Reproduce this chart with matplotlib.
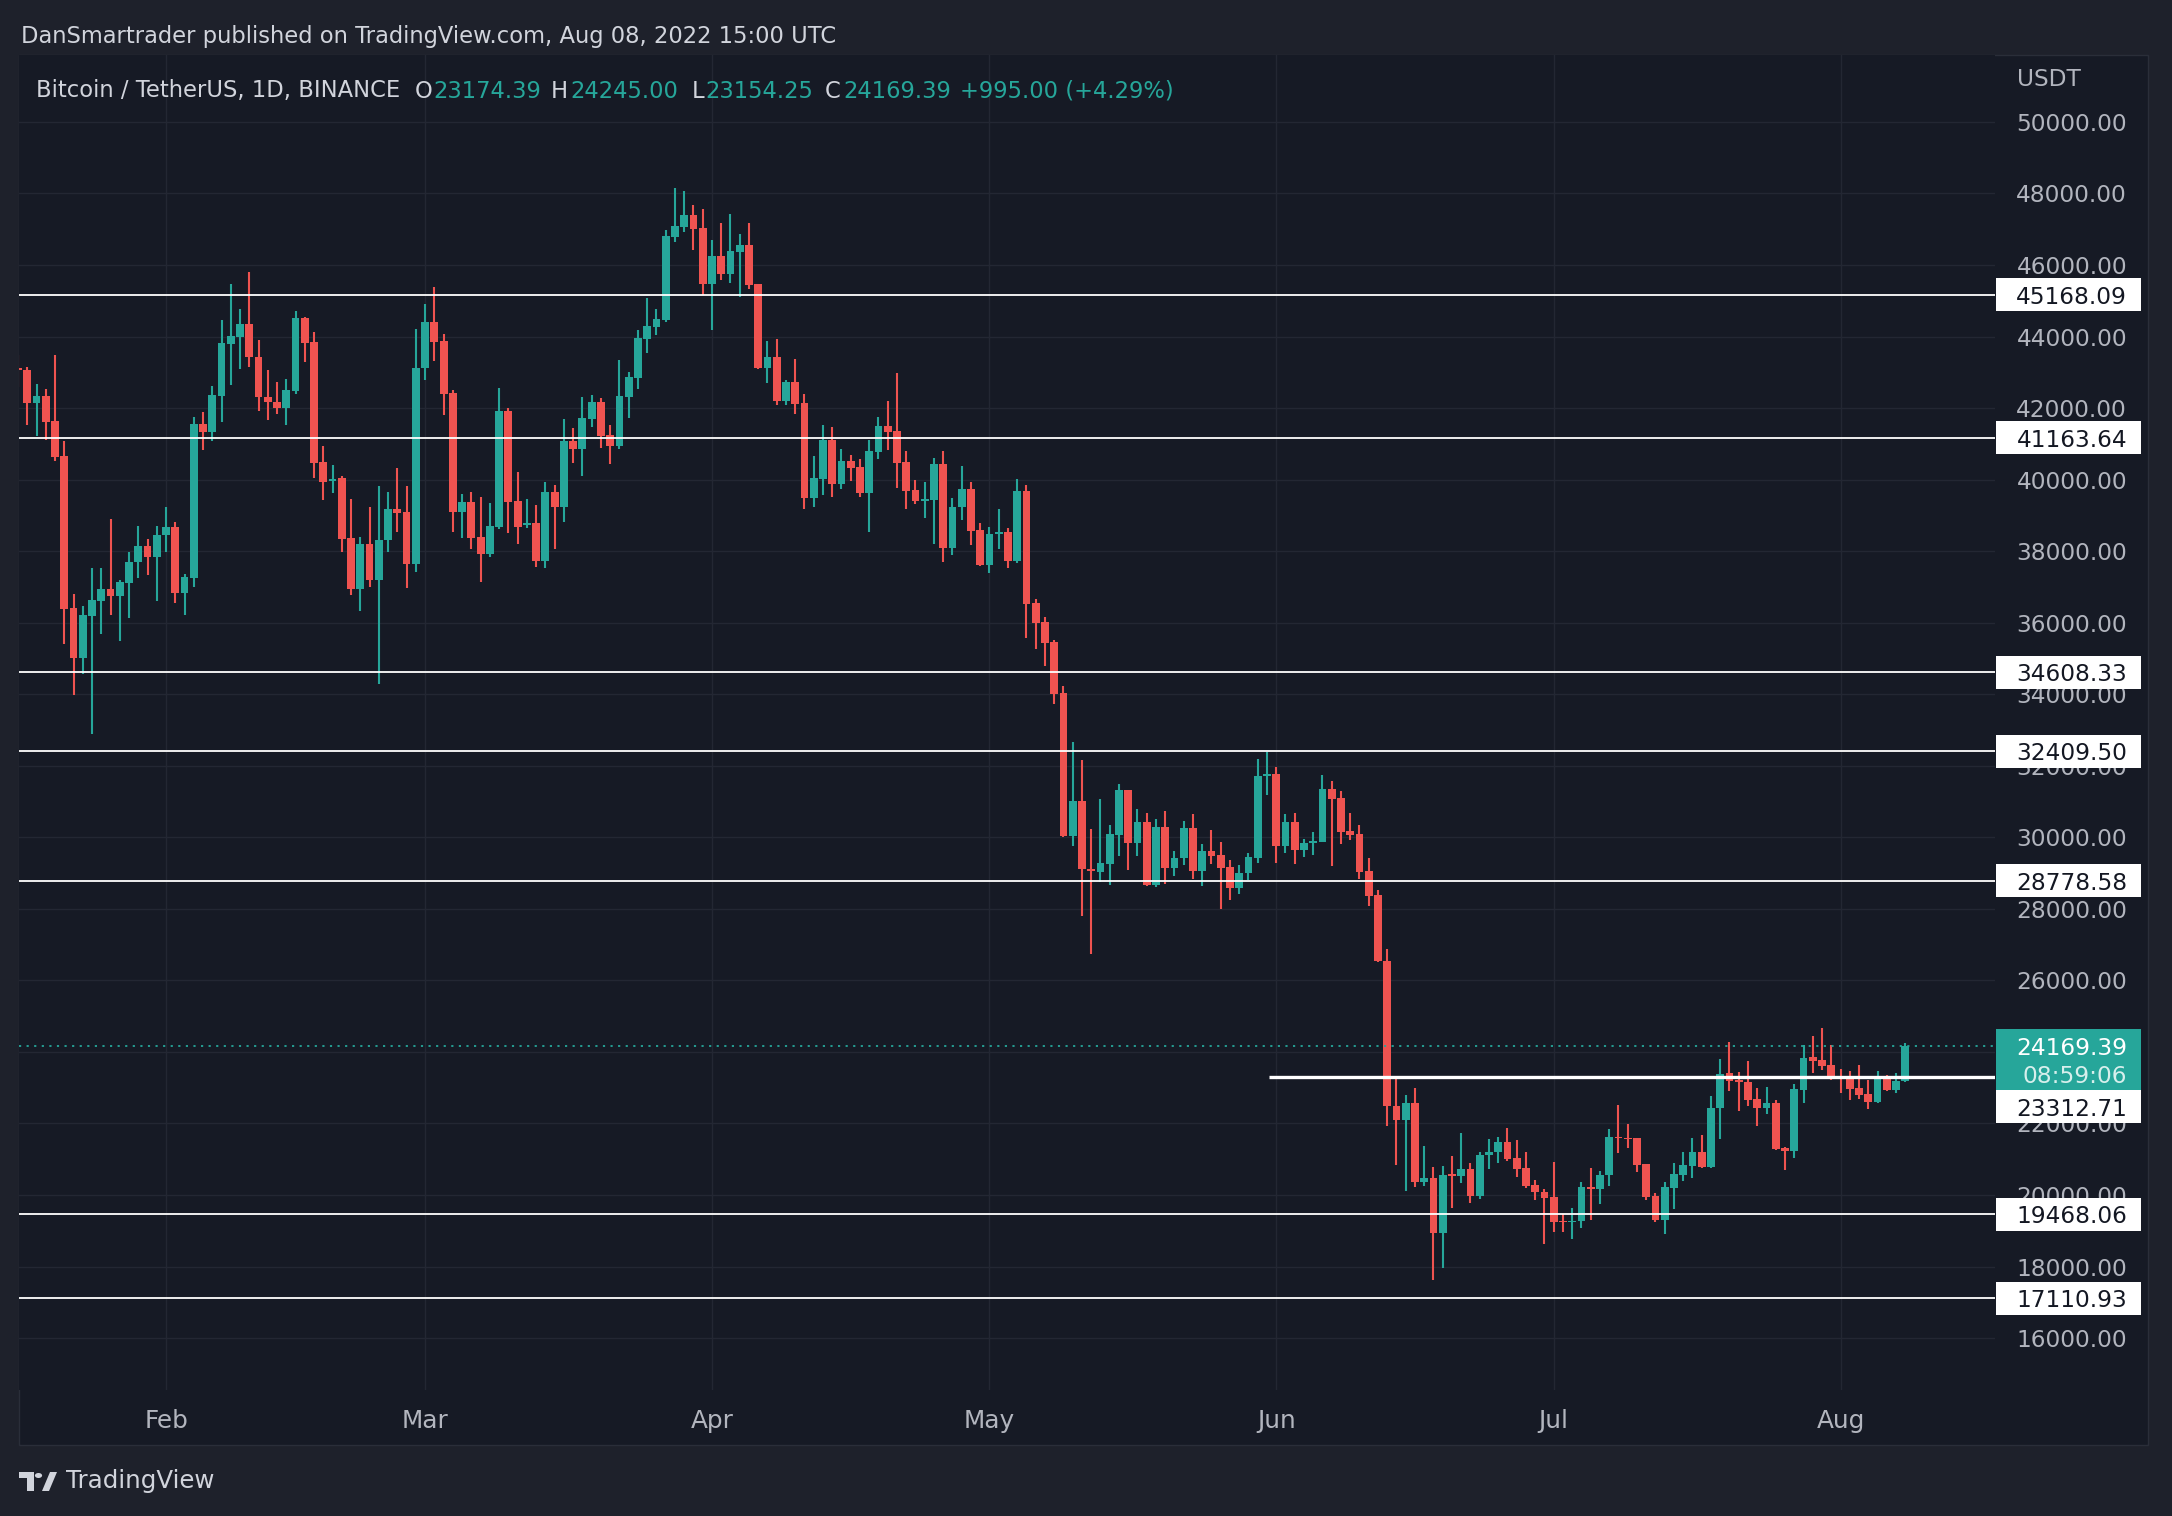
import numpy as np
import pandas as pd
import matplotlib
matplotlib.use("Agg")
import matplotlib.pyplot as plt
import matplotlib.dates as mdates
from matplotlib.patches import Rectangle, Circle, Polygon

# ---------------- data (BTC/USDT daily) ----------------
start_date = "2022-01-16"
opens = [43080, 43071, 42141, 42328, 41638, 40660, 36410, 35021, 36196, 36615,
         36941, 36755, 37109, 37696, 38143, 37836, 38451, 38674, 36829, 37249,
         41554, 41340, 42346, 43800, 43996, 44350, 43436, 42318, 42178, 42011,
         42486, 44517, 43847, 40492, 39960, 40044, 38367, 36950, 38199, 37202,
         38311, 39178, 39094, 37649, 43120, 44406, 43874, 42421, 39103, 39373,
         38395, 37919, 38674, 41917, 39401, 38730, 38786, 37733, 39653, 39243,
         41079, 40864, 41694, 42170, 41247, 40939, 42309, 42840, 43931, 44266,
         44462, 46782, 47062, 47398, 47034, 45469, 46251, 45748, 46363, 46559,
         45469, 43120, 43428, 42198, 42728, 42142, 39495, 40026, 41107, 39887,
         40520, 40352, 39626, 40779, 41495, 41356, 40490, 39710, 39410, 39432,
         40437, 38096, 39229, 39742, 38587, 37615, 38480, 38523, 37711, 39678,
         36556, 36022, 35466, 34033, 30046, 31019, 29084, 29020, 29266, 30078,
         31318, 29854, 30428, 28666, 30288, 29141, 29421, 30260, 29067, 29617,
         29505, 29169, 28583, 29002, 29421, 31714, 31770, 29757, 30428, 29645,
         29841, 29869, 31350, 31099, 30176, 30092, 29058, 28387, 26542, 22480,
         22100, 22569, 20364, 20464, 18937, 20554, 20533, 20723, 19975, 21112,
         21212, 21481, 21032, 20753, 20274, 20094, 19945, 19266, 19236, 19286,
         20224, 20164, 20554, 21621, 21591, 21591, 20862, 19965, 19296, 20204,
         20554, 20820, 21193, 20783, 22432, 23411, 23215, 23159, 22684, 22442,
         22572, 21305, 21230, 22935, 23858, 23774, 23634, 23299, 23271, 22992,
         22824, 22600, 23299, 22935, 23174.39]
highs = [43470, 43150, 42670, 42533, 43483, 41069, 36801, 36456, 37529, 37529,
         38898, 37193, 37975, 38702, 38339, 38702, 39234, 38814, 37361, 41750,
         41889, 42616, 44462, 45468, 44769, 45803, 43902, 43064, 42728, 42812,
         44713, 44540, 44126, 40939, 40408, 40100, 39457, 38395, 39234, 39820,
         39653, 40324, 39820, 44210, 44909, 45384, 44070, 42505, 39597, 39653,
         39513, 39345, 42560, 42001, 40212, 39457, 39289, 39933, 39849, 41694,
         41442, 42309, 42365, 42281, 41526, 43344, 43008, 44182, 45077, 44770,
         46978, 48152, 48068, 47677, 47565, 46699, 47174, 47426, 46866, 47174,
         45469, 43875, 43931, 42785, 43372, 42393, 40660, 41527, 41471, 40856,
         40688, 40576, 41100, 41752, 42201, 42976, 40800, 39988, 39934, 40608,
         40800, 39485, 40383, 39934, 38791, 38673, 39175, 38652, 40020, 39849,
         36663, 36161, 35519, 34236, 32665, 32163, 30228, 31072, 30346, 31479,
         31318, 30794, 30679, 30512, 30735, 29617, 30456, 30651, 29813, 30204,
         29869, 29365, 29225, 29561, 32189, 32385, 31965, 30651, 30679, 29953,
         30148, 31742, 31574, 31295, 30679, 30344, 29421, 28527, 26890, 23330,
         22789, 22989, 21362, 20783, 20803, 21082, 21731, 20893, 21212, 21561,
         21621, 21870, 21531, 21202, 20414, 20164, 20923, 19466, 19635, 20364,
         20753, 20663, 21841, 22510, 21980, 21591, 20862, 20045, 20364, 20893,
         21202, 21593, 21677, 22758, 23802, 24277, 23439, 23746, 22992, 23019,
         22656, 21342, 23103, 24194, 24445, 24669, 24194, 23523, 23467, 23634,
         23215, 23467, 23355, 23411, 24245.00]
lows = [42580, 41530, 41220, 41116, 40529, 35413, 33987, 34565, 32897, 35692,
        36223, 35497, 36140, 37249, 37333, 36615, 37975, 36559, 36223, 37007,
        40836, 41088, 41619, 42654, 43101, 43157, 41927, 41675, 41843, 41535,
        42402, 43297, 40054, 39439, 39634, 37985, 36783, 36335, 37006, 34294,
        37985, 38544, 36978, 37426, 42794, 43315, 41806, 38544, 38367, 38069,
        37146, 37845, 38628, 38516, 38209, 38656, 37565, 37537, 38069, 38823,
        40473, 40110, 41470, 40884, 40436, 40856, 41722, 42533, 43539, 44043,
        44406, 46643, 46922, 46419, 45161, 44182, 45580, 45496, 45105, 45329,
        43092, 42701, 42086, 42086, 41834, 39178, 39234, 39570, 39523, 39737,
        39961, 39514, 38534, 40586, 40832, 39763, 39175, 39304, 38930, 38203,
        37700, 37893, 38876, 38171, 37583, 37390, 38064, 37529, 37679, 35573,
        35263, 34793, 33735, 30000, 29747, 27791, 26732, 28752, 28656, 29491,
        29095, 29469, 28638, 28600, 28703, 28918, 29225, 28834, 28638, 29253,
        27995, 28247, 28415, 28806, 29281, 31182, 29281, 29561, 29253, 29449,
        29505, 29869, 29197, 29813, 29925, 28834, 28079, 26514, 21930, 20850,
        20114, 20234, 20244, 17629, 17969, 19645, 20345, 19785, 19895, 20733,
        20893, 20953, 20504, 20204, 19865, 18637, 18977, 18977, 18778, 19067,
        19306, 19755, 20254, 21182, 21322, 20653, 19865, 19256, 18917, 19615,
        20384, 20475, 20755, 20755, 21566, 22908, 22348, 22488, 21929, 22264,
        21258, 20699, 21034, 22572, 23411, 23495, 23215, 22852, 22656, 22684,
        22404, 22572, 22908, 22852, 23154.25]
closes = [43071, 42141, 42328, 41610, 40641, 36391, 35021, 36214, 36634, 36941,
          36755, 37137, 37696, 38143, 37836, 38451, 38674, 36829, 37277, 41554,
          41340, 42365, 43819, 44014, 44350, 43436, 42318, 42178, 42011, 42505,
          44517, 43828, 40473, 39942, 40020, 38348, 36950, 38199, 37202, 38311,
          39178, 39075, 37649, 43120, 44406, 43846, 42393, 39103, 39373, 38367,
          37919, 38702, 41917, 39383, 38684, 38800, 37733, 39653, 39243, 41079,
          40864, 41722, 42170, 41219, 40939, 42337, 42869, 43958, 44294, 44490,
          46810, 47090, 47398, 47006, 45469, 46251, 45748, 46391, 46559, 45441,
          43120, 43428, 42198, 42728, 42114, 39495, 40045, 41107, 39887, 40520,
          40324, 39626, 40800, 41495, 41335, 40469, 39688, 39410, 39430, 40437,
          38096, 39229, 39742, 38566, 37615, 38480, 38510, 37711, 39678, 36524,
          36000, 35434, 34012, 30046, 31019, 29106, 29058, 29287, 30100, 31318,
          29854, 30440, 28666, 30288, 29141, 29421, 30260, 29067, 29617, 29477,
          29141, 28583, 29002, 29449, 31714, 31770, 29757, 30428, 29645, 29841,
          29897, 31350, 31071, 30148, 30064, 29030, 28359, 26542, 22480, 22100,
          22570, 20364, 20464, 18937, 20554, 20533, 20723, 19975, 21112, 21212,
          21481, 21012, 20733, 20244, 20094, 19925, 19256, 19236, 19286, 20224,
          20164, 20554, 21621, 21591, 21561, 20842, 19955, 19296, 20224, 20583,
          20833, 21193, 20783, 22432, 23383, 23196, 23159, 22656, 22442, 22572,
          21286, 21230, 22963, 23830, 23746, 23606, 23271, 23243, 22963, 22796,
          22600, 23299, 22935, 23174.39, 24169.39]

level_values = [45168.09, 41163.64, 34608.33, 32409.50, 28778.58, 23312.71, 19468.06, 17110.93]
partial_level = 23312.71
partial_level_start = "2022-05-31"
last_price = 24169.39
countdown = "08:59:06"
price_ticks = list(range(16000, 50001, 2000))
month_ticks = ["2022-02-01", "2022-03-01", "2022-04-01", "2022-05-01",
               "2022-06-01", "2022-07-01", "2022-08-01"]
month_labels = ["Feb", "Mar", "Apr", "May", "Jun", "Jul", "Aug"]

title_text = "DanSmartrader published on TradingView.com, Aug 08, 2022 15:00 UTC"
symbol_text = "Bitcoin / TetherUS, 1D, BINANCE"
ohlc_parts = [("O", "23174.39"), ("H", "24245.00"), ("L", "23154.25"), ("C", "24169.39")]
change_text = "+995.00 (+4.29%)"

# ---------------- style ----------------
W, H = 2172, 1516
OUTER = "#1e212b"
BG = "#161a25"
GRID = "#232733"
GREEN = "#26a69a"
RED = "#ef5350"
TXT = "#d1d4dc"
AXTXT = "#b2b5be"
FONT = "DejaVu Sans"

fig = plt.figure(figsize=(W / 100, H / 100), dpi=100, facecolor=OUTER)
renderer = fig.canvas.get_renderer()

def fx(px):
    return px / W

def fy(py):
    return 1 - py / H

def fit_size(s, width_px, weight="normal"):
    t = fig.text(0, 0, s, fontsize=10, family=FONT, weight=weight)
    bb = t.get_window_extent(renderer)
    t.remove()
    return 10 * width_px / bb.width

# panel background
fig.add_artist(Rectangle((fx(19), fy(1445)), fx(2148) - fx(19), fy(55) - fy(1445),
                         transform=fig.transFigure, facecolor=BG, edgecolor="#2a2e39",
                         lw=1.0, zorder=0))

# main axes (plot area)
L_PX, R_PX, T_PX, B_PX = 19, 1995, 55, 1390
ax = fig.add_axes([fx(L_PX), fy(B_PX), fx(R_PX) - fx(L_PX), fy(T_PX) - fy(B_PX)])
ax.set_facecolor(BG)
for s in ax.spines.values():
    s.set_visible(False)
ax.set_xticks([])
ax.set_yticks([])

dates = pd.date_range(start_date, periods=len(opens), freq="D")
x = mdates.date2num(dates.to_pydatetime())
feb1 = mdates.date2num(pd.Timestamp("2022-02-01").to_pydatetime())
ax.set_xlim(feb1 - 15.9, feb1 + 197.7)
ymin, ymax = 14549, 51870
ax.set_ylim(ymin, ymax)
dpp = (ymax - ymin) / (B_PX - T_PX)  # price units per pixel

# grid
for p in price_ticks:
    ax.axhline(p, color=GRID, lw=1.0, zorder=0)
mx = [mdates.date2num(pd.Timestamp(m).to_pydatetime()) for m in month_ticks]
for m in mx:
    ax.axvline(m, color=GRID, lw=1.0, zorder=0)

# candles
o = np.array(opens, float)
h = np.array(highs, float)
l = np.array(lows, float)
c = np.array(closes, float)
up = c >= o
cols = np.where(up, GREEN, RED)
bottoms = np.minimum(o, c)
heights = np.maximum(np.abs(c - o), 1.6 * dpp)
ax.vlines(x, l, h, colors=cols, lw=1.5, zorder=2)
ax.bar(x, heights, width=0.84, bottom=bottoms, color=cols, linewidth=0, zorder=3)

# horizontal levels
x_start = mdates.date2num(pd.Timestamp(partial_level_start).to_pydatetime()) + 0.2
for lv in level_values:
    if lv == partial_level:
        ax.hlines(lv, x_start, ax.get_xlim()[1], color="white", lw=2.4, zorder=4)
    else:
        ax.axhline(lv, color="white", lw=1.3, zorder=4)

# last price dotted line
ax.axhline(last_price, color=GREEN, lw=1.3, linestyle=(0, (1.2, 3.0)), zorder=4)

# price axis labels
ytr = ax.get_yaxis_transform()
span = R_PX - L_PX
xr = (2127 - L_PX) / span
box_l = (1996 - L_PX) / span
box_w = (2141 - 1996) / span
axis_fs = fit_size("50000.00", 110)
tdy = -2.5 * dpp  # small downward shift so digits sit centred on the level
for p in price_ticks:
    ax.text(xr, p + tdy, f"{p:.2f}", transform=ytr, ha="right", va="center",
            color=AXTXT, fontsize=axis_fs, family=FONT, clip_on=False, zorder=2)
ax.text((2017 - L_PX) / span, ymax - 25 * dpp, "USDT", transform=ytr, ha="left", va="center",
        color=AXTXT, fontsize=axis_fs, family=FONT, clip_on=False)

# level label boxes
for lv in level_values:
    center = lv
    if lv == partial_level:
        center = lv - 30 * dpp
    ax.add_patch(Rectangle((box_l, center - 16.5 * dpp), box_w, 33 * dpp, transform=ytr,
                           facecolor="white", edgecolor="none", clip_on=False, zorder=6))
    ax.text(xr, center + tdy, f"{lv:.2f}", transform=ytr, ha="right", va="center",
            color="#131722", fontsize=axis_fs, family=FONT, clip_on=False, zorder=7)

# last price box
ax.add_patch(Rectangle((box_l, last_price - 44 * dpp), box_w, 61 * dpp, transform=ytr,
                       facecolor=GREEN, edgecolor="none", clip_on=False, zorder=6))
ax.text(xr, last_price + tdy, f"{last_price:.2f}", transform=ytr, ha="right", va="center",
        color="white", fontsize=axis_fs, family=FONT, clip_on=False, zorder=7)
ax.text(xr, last_price - 28 * dpp + tdy, countdown, transform=ytr, ha="right", va="center",
        color="#d7efec", fontsize=axis_fs, family=FONT, clip_on=False, zorder=7)

# month labels
xtr = ax.get_xaxis_transform()
month_fs = fit_size("Feb", 44)
ylab = (B_PX - 1421) / (B_PX - T_PX)
for m, lab in zip(mx, month_labels):
    ax.text(m, ylab, lab, transform=xtr, ha="center", va="center", color=AXTXT,
            fontsize=month_fs, family=FONT, clip_on=False)

# header lines
title_fs = fit_size(title_text, 814)
fig.text(fx(21), fy(36), title_text, ha="left", va="center", color=TXT,
         fontsize=title_fs, family=FONT)
sym_fs = fit_size(symbol_text, 362)
fig.text(fx(36), fy(91), symbol_text, ha="left", va="center", color=TXT,
         fontsize=sym_fs, family=FONT)
part_x = [(415, 433), (551, 570), (692, 705), (825, 843)]
for (lab, val), (lx, vx) in zip(ohlc_parts, part_x):
    fig.text(fx(lx), fy(91), lab, ha="left", va="center", color=TXT, fontsize=sym_fs, family=FONT)
    fig.text(fx(vx), fy(91), val, ha="left", va="center", color=GREEN, fontsize=sym_fs, family=FONT)
fig.text(fx(960), fy(91), change_text, ha="left", va="center", color=GREEN,
         fontsize=sym_fs, family=FONT)

# TradingView logo + wordmark
logo_col = TXT
fig.add_artist(Polygon([(fx(19), fy(1472)), (fx(34), fy(1472)), (fx(34), fy(1491)),
                        (fx(27), fy(1491)), (fx(27), fy(1478)), (fx(19), fy(1478))],
                       closed=True, transform=fig.transFigure, facecolor=logo_col, edgecolor="none"))
fig.add_artist(Circle((fx(38.5), fy(1475.5)), 3.6 / W, transform=fig.transFigure,
                      facecolor=logo_col, edgecolor="none"))
fig.add_artist(Polygon([(fx(50), fy(1472)), (fx(57), fy(1472)), (fx(49), fy(1491)), (fx(42), fy(1491))],
                       closed=True, transform=fig.transFigure, facecolor=logo_col, edgecolor="none"))
tv_fs = fit_size("TradingView", 149)
fig.text(fx(66), fy(1481), "TradingView", ha="left", va="center", color=TXT,
         fontsize=tv_fs, family=FONT)

fig.savefig("out.png", dpi=100, facecolor=OUTER)
